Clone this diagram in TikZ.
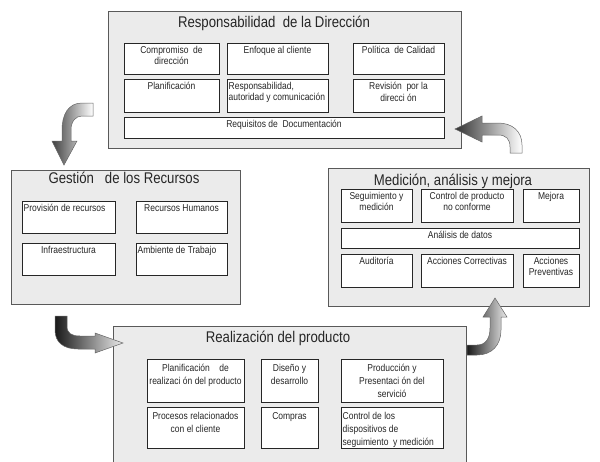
\documentclass[tikz,border=0pt]{standalone}
\usepackage{fontspec}
\setmainfont{Liberation Sans}[FakeStretch=0.85]
\newcommand\pnl[5]{\node[panel, minimum width={(#4-#2)*1pt}, minimum height={(#5-#3)*1pt}] (#1) at (#2,#3) {};}
% centred text box
\newcommand\ibx[6]{\node[ibox, minimum width={(#4-#2)*1pt}, minimum height={(#5-#3)*1pt}] (#1) at (#2,#3) {};
  \node[itext, anchor=north, align=center] (#1t) at ([yshift=-3pt]#1.north) {#6};}
% left-aligned text box
\newcommand\ibl[6]{\node[ibox, minimum width={(#4-#2)*1pt}, minimum height={(#5-#3)*1pt}] (#1) at (#2,#3) {};
  \node[itext, anchor=north west, align=left] (#1t) at ([xshift=1.5pt,yshift=-3pt]#1.north west) {#6};}
\begin{document}
\begin{tikzpicture}[x=1pt,y=-1pt,
  panel/.style={draw=black!65, fill=black!8, line width=0.9pt, anchor=north west, inner sep=0pt, outer sep=0pt},
  ibox/.style={draw=black!85, fill=white, line width=0.8pt, anchor=north west, inner sep=0pt, outer sep=0pt},
  ptitle/.style={font=\fontsize{15.5}{17}\selectfont, text=black!85, inner sep=0pt, anchor=base},
  itext/.style={font=\fontsize{10}{11.5}\selectfont, text=black!85, inner sep=0pt},
  arr/.style={draw=black!60, line width=0.5pt}]
\useasboundingbox (0,0) rectangle (600,461);

% Responsabilidad de la Direccion
\pnl{P1}{108}{11}{461}{148}
\node[ptitle] (t1) at (274,27) {Responsabilidad\ \ de la Dirección};
\ibx{c1}{124}{43}{219}{74}{Compromiso\ \ de\\dirección}
\ibx{c2}{227}{43}{328}{74}{Enfoque\ al cliente}
\ibx{c3}{353}{43}{444}{74}{Política\ \ de Calidad}
\ibx{c4}{124}{79}{219}{112}{Planificación}
\ibl{c5}{227}{79}{328}{112}{Responsabilidad,\\autoridad y comunicación}
\ibx{c6}{353}{79}{444}{112}{Revisión\ \ por la\\direcci ón}
\ibx{c7}{124}{117}{444}{138}{Requisitos de\ \ Documentación}

% Gestion de los Recursos
\pnl{P2}{11}{170}{240}{304}
\node[ptitle] (t2) at (124,183) {Gestión\ \ \ de los Recursos};
\ibl{g1}{22}{201}{115}{233}{Provisión de recursos}
\ibx{g2}{136}{201}{227}{233}{Recursos Humanos}
\ibx{g3}{22}{243}{115}{275}{Infraestructura}
\ibl{g4}{136}{243}{227}{275}{Ambiente de Trabajo}

% Medicion, analisis y mejora
\pnl{P3}{328}{168}{589}{306}
\node[ptitle] (t3) at (453,185) {Medición, análisis y mejora};
\ibx{m1}{341}{189}{412}{222}{Seguimiento y\\medición}
\ibx{m2}{421}{189}{513}{222}{Control de producto\\no conforme}
\ibx{m3}{523}{189}{579}{222}{Mejora}
\ibx{m4}{341}{228}{579}{248}{Análisis de datos}
\ibx{m5}{341}{254}{412}{287}{Auditoría}
\ibx{m6}{421}{254}{513}{287}{Acciones Correctivas}
\ibx{m7}{523}{254}{579}{287}{Acciones\\Preventivas}

% Realizacion del producto
\pnl{P4}{113}{326}{466}{475}
\node[ptitle] (t4) at (278,342) {Realización del producto};
\begin{scope}[itext/.style={font=\fontsize{10}{13}\selectfont, text=black!85, inner sep=0pt, yshift=-2pt}]
\ibx{r1}{147}{359}{244}{402}{Planificación\ \ \ \ de\\realizaci ón del producto}
\ibx{r2}{261}{359}{318}{402}{Diseño y\\desarrollo}
\ibx{r3}{341}{359}{443}{402}{Producción y\\Presentaci ón del\\servició}
\ibx{r4}{147}{407}{244}{448}{Procesos relacionados\\con el cliente}
\ibx{r5}{261}{407}{318}{448}{Compras}
\ibl{r6}{341}{407}{443}{448}{Control de los\\dispositivos de\\seguimiento\ \ y medición}
\end{scope}

% curved arrows
\shadedraw[arr, left color=black!75, right color=white]
  (93,103) -- (82,103) .. controls (68,103) and (62,115) .. (62,130) -- (62,141) -- (52,141)
  -- (64,165) -- (77,141) -- (71,141) -- (71,130) .. controls (71,121) and (76,116) .. (82,116)
  -- (93,116) -- cycle;
\shadedraw[arr, left color=black!80, right color=white]
  (482,116) -- (455,129) -- (482,142) -- (482,135) -- (498,135) .. controls (506,135) and (510,139) .. (510,147)
  -- (510,153) -- (522,153) -- (522,145) .. controls (522,131) and (512,123) .. (498,123) -- (482,123) -- cycle;
\shadedraw[arr, left color=black!90, right color=black!8]
  (55,316) -- (55,330) .. controls (55,342) and (63,349) .. (78,349) -- (95,349) -- (95,353) -- (123,343)
  -- (95,333) -- (95,336) -- (80,336) .. controls (71,336) and (67,333) .. (67,326) -- (67,316) -- cycle;
\shadedraw[arr, left color=black!90, right color=black!8]
  (467,345) -- (477,345) .. controls (486,345) and (490,338) .. (490,328) -- (490,317) -- (483,317)
  -- (495,298) -- (507,317) -- (501,317) -- (501,330) .. controls (501,345) and (492,355) .. (477,355)
  -- (467,355) -- cycle;
\end{tikzpicture}
\end{document}
